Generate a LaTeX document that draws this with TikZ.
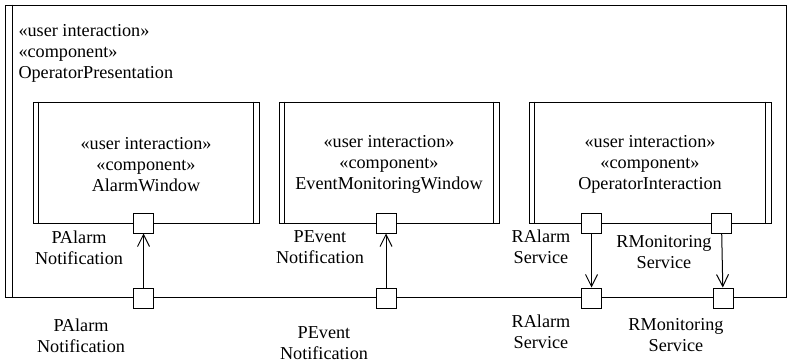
\documentclass[tikz,border=0pt]{standalone}
\usepackage{fontspec}
\setmainfont{Liberation Serif}
\usetikzlibrary{arrows.meta}
\begin{document}
\begin{tikzpicture}[x=1pt,y=-1pt, line width=1pt,
  txt/.style={font=\fontsize{18.2}{21}\selectfont, align=center, inner sep=0pt},
  comp/.style={draw, minimum height=121pt, inner sep=0pt},
  port/.style={draw, fill=white, minimum size=20pt, inner sep=0pt},
  conn/.style={-{Straight Barb[length=12pt,width=12pt]}}]
\useasboundingbox (0,0) rectangle (787,364);
% outer component
\node[draw, minimum width=781pt, minimum height=292pt, inner sep=0pt] (outer) at (395.5,151) {};
\draw ([xshift=8pt]outer.north west) -- ([xshift=8pt]outer.south west);
\node[txt, align=left, anchor=west] (hdr) at (18,53) {«user interaction»\\«component»\\OperatorPresentation};
% inner components
\node[comp, minimum width=226pt] (aw) at (146,162.5) {};
\node[comp, minimum width=220pt] (emw) at (389,162.5) {};
\node[comp, minimum width=242pt] (oi) at (650,162.5) {};
\node[txt] (awt) at (146,164.5) {«user interaction»\\«component»\\AlarmWindow};
\node[txt] (emwt) at (389,164.5) {«user interaction»\\«component»\\EventMonitoringWindow};
\node[txt] (oit) at (650,164.5) {«user interaction»\\«component»\\OperatorInteraction};
\foreach \b in {aw,emw,oi}{
  \draw ([xshift=6pt]\b.north west) -- ([xshift=6pt]\b.south west);
  \draw ([xshift=-6pt]\b.north east) -- ([xshift=-6pt]\b.south east);
}
% ports
\node[port] (pa1) at (143.5,223) {};
\node[port] (pa2) at (143.5,298) {};
\node[port] (pe1) at (386,223) {};
\node[port] (pe2) at (386,298) {};
\node[port] (ra1) at (591.5,223) {};
\node[port] (ra2) at (591.5,298) {};
\node[port] (rm1) at (721.5,223) {};
\node[port] (rm2) at (723,298) {};
% connectors
\draw[conn] (pa2) -- (pa1);
\draw[conn] (pe2) -- (pe1);
\draw[conn] (ra1) -- (ra2);
\draw[conn] (rm1) -- (rm2);
% port labels
\node[txt] (lpa1) at (79,247.5) {PAlarm\\Notification};
\node[txt] (lpe1) at (320,247.5) {PEvent\\Notification};
\node[txt] (lra1) at (541,247) {RAlarm\\Service};
\node[txt] (lrm1) at (664,252) {RMonitoring\\Service};
\node[txt] (lpa2) at (81,335.5) {PAlarm\\Notification};
\node[txt] (lpe2) at (324,343) {PEvent\\Notification};
\node[txt] (lra2) at (541,331.5) {RAlarm\\Service};
\node[txt] (lrm2) at (676,335.5) {RMonitoring\\Service};
\end{tikzpicture}
\end{document}
